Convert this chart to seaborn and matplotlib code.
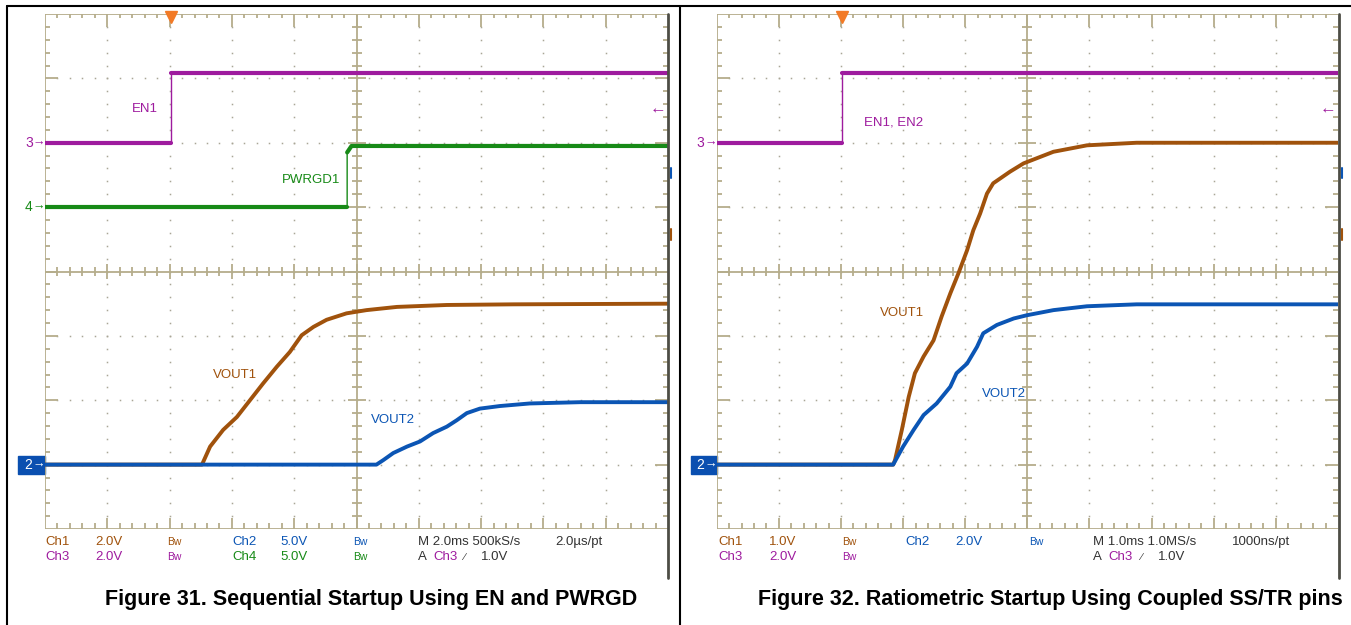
import numpy as np
import matplotlib
matplotlib.use("Agg")
import matplotlib.pyplot as plt
from matplotlib.lines import Line2D
from matplotlib.patches import Rectangle
from matplotlib.collections import LineCollection
import seaborn as sns

W, H = 1351, 625

# trace values in scope divisions (time: 0-10 div, level: 0-8 div)
# Figure 31 - sequential startup
en1_x = [0, 2.02, 2.02, 10]
en1_y = [6.0, 6.0, 7.08, 7.08]
pwrgd_x = [0, 4.85, 4.85, 4.92, 10]
pwrgd_y = [5.0, 5.0, 5.85, 5.95, 5.95]
vout1_x = [0, 2.52, 2.65, 2.86, 3.08, 3.29, 3.50, 3.72, 3.93, 4.12, 4.31, 4.52, 4.84, 5.16, 5.65, 6.45, 7.52, 10]
vout1_y = [1.0, 1.0, 1.28, 1.54, 1.74, 2.00, 2.26, 2.52, 2.75, 3.01, 3.14, 3.25, 3.35, 3.40, 3.45, 3.48, 3.49, 3.50]
vout2_x = [0, 5.32, 5.43, 5.59, 5.81, 6.02, 6.23, 6.45, 6.61, 6.77, 6.98, 7.30, 7.78, 8.59, 10]
vout2_y = [1.0, 1.0, 1.07, 1.18, 1.28, 1.36, 1.49, 1.59, 1.69, 1.80, 1.87, 1.91, 1.95, 1.97, 1.97]

# Figure 32 - ratiometric startup
en12_x = [0, 2.02, 2.02, 10]
en12_y = [6.0, 6.0, 7.08, 7.08]
r_vout1_x = [0, 2.84, 2.87, 2.98, 3.09, 3.19, 3.33, 3.49, 3.62, 3.76, 3.89, 4.03, 4.13, 4.24, 4.35, 4.45, 4.72, 4.94, 5.42, 5.96, 6.76, 10]
r_vout1_y = [1.0, 1.0, 1.07, 1.54, 2.05, 2.42, 2.68, 2.93, 3.30, 3.66, 3.97, 4.33, 4.64, 4.90, 5.21, 5.37, 5.55, 5.68, 5.86, 5.96, 6.00, 6.00]
r_vout2_x = [0, 2.84, 3.00, 3.17, 3.33, 3.54, 3.76, 3.86, 4.03, 4.19, 4.29, 4.51, 4.78, 4.99, 5.42, 5.96, 6.76, 10]
r_vout2_y = [1.0, 1.0, 1.28, 1.54, 1.77, 1.95, 2.21, 2.42, 2.57, 2.83, 3.04, 3.17, 3.27, 3.32, 3.40, 3.46, 3.49, 3.49]

PURPLE = "#9e1b9e"
GREEN = "#178a17"
ORANGE = "#a0520c"
BLUE = "#0b55b4"
TAN = "#b5ad8b"
DOT = "#a9a696"

sns.set_style("white")
plt.rcParams["font.family"] = ["Liberation Sans", "DejaVu Sans"]

fig = plt.figure(figsize=(W / 100, H / 100), dpi=100)


def px_axes(x0, y0, x1, y1):
    return fig.add_axes([x0 / W, 1 - y1 / H, (x1 - x0) / W, (y1 - y0) / H])


def fig_line(x0, y0, x1, y1, color, lw):
    fig.add_artist(Line2D([x0 / W, x1 / W], [1 - y0 / H, 1 - y1 / H],
                          transform=fig.transFigure, color=color, lw=lw))


def draw_screen(ax, pxw):
    kx = 1 / pxw
    ky = 1 / 64.4
    ax.set_xlim(0, 10)
    ax.set_ylim(0, 8)
    ax.set_axis_off()
    # dotted graticule
    dx, dy = [], []
    for xi in [1, 2, 3, 4, 6, 7, 8, 9]:
        ys = np.arange(1, 40) * 0.2
        dx += [xi] * len(ys)
        dy += list(ys)
    for yi in [1, 2, 3, 5, 6, 7]:
        xs = np.arange(1, 50) * 0.2
        dx += list(xs)
        dy += [yi] * len(xs)
    ax.plot(dx, dy, ls="none", marker="s", ms=1.1, mew=0, color=DOT)
    segs = []
    for i in range(1, 50):
        x = i * 0.2
        big = i % 5 == 0
        segs.append([(x, 8), (x, 8 - (13 if big else 4) * ky)])
        segs.append([(x, 0), (x, (11 if big else 6) * ky)])
        lc = (8 if big else 5)
        segs.append([(x, 4 - lc * ky), (x, 4 + lc * ky)])
    for i in range(1, 40):
        y = i * 0.2
        big = i % 5 == 0
        segs.append([(0, y), ((13 if big else 5) * kx, y)])
        segs.append([(10, y), (10 - (13 if big else 5) * kx, y)])
        lc = (9 if big else 5)
        segs.append([(5 - lc * kx, y), (5 + lc * kx, y)])
    segs += [[(0, 0), (0, 8)], [(0, 8), (10, 8)], [(0, 0), (10, 0)],
             [(5, 0), (5, 8)], [(0, 4), (10, 4)]]
    ax.add_collection(LineCollection(segs, colors=TAN, linewidths=1.3))


def step_trace(ax, xs, ys, color):
    sns.lineplot(x=xs, y=ys, ax=ax, color=color, lw=1.0, estimator=None, sort=False)
    sns.lineplot(x=xs[:2], y=ys[:2], ax=ax, color=color, lw=3.0, estimator=None, sort=False)
    sns.lineplot(x=xs[2:], y=ys[2:], ax=ax, color=color, lw=3.0, estimator=None, sort=False)


def ramp_trace(ax, xs, ys, color):
    sns.lineplot(x=xs, y=ys, ax=ax, color=color, lw=2.8, estimator=None, sort=False)


def ch_marker(ax, kx, y, label, color):
    ax.text(-16 * kx, y, label, color=color, fontsize=10, ha="center", va="center")
    ax.text(-6 * kx, y, "\u2192", color=color, fontsize=9, ha="center", va="center")


def gnd_box(ax, kx, x0px):
    ax.add_patch(Rectangle((x0px * kx, 0.86), -x0px * kx, 0.28, color="#0a4fb0", clip_on=False))
    ax.text(-17 * kx, 1.0, "2", color="white", fontsize=10, ha="center", va="center")
    ax.text(-6 * kx, 1.0, "\u2192", color="white", fontsize=9, ha="center", va="center")


LBL = 9.5

# ---- left scope screen
axL = px_axes(45, 14, 668, 529)
kxL = 1 / 62.3
draw_screen(axL, 62.3)
step_trace(axL, en1_x, en1_y, PURPLE)
step_trace(axL, pwrgd_x, pwrgd_y, GREEN)
ramp_trace(axL, vout1_x, vout1_y, ORANGE)
ramp_trace(axL, vout2_x, vout2_y, BLUE)
axL.text(1.61, 6.52, "EN1", color=PURPLE, fontsize=LBL, ha="center", va="center")
axL.text(4.27, 5.42, "PWRGD1", color=GREEN, fontsize=LBL, ha="center", va="center")
axL.text(3.05, 2.39, "VOUT1", color=ORANGE, fontsize=LBL, ha="center", va="center")
axL.text(5.59, 1.69, "VOUT2", color=BLUE, fontsize=LBL, ha="center", va="center")
axL.plot(2.02, 8 - 3.5 / 64.4, marker="v", ms=8, color="#f27a26", clip_on=False)
axL.text(9.84, 6.52, "\u2190", color=PURPLE, fontsize=12, ha="center", va="center")
ch_marker(axL, kxL, 6.0, "3", PURPLE)
ch_marker(axL, kxL, 5.0, "4", GREEN)
gnd_box(axL, kxL, -27)

# ---- right scope screen
axR = px_axes(716.7, 14, 1338, 529)
kxR = 1 / 62.1
draw_screen(axR, 62.1)
step_trace(axR, en12_x, en12_y, PURPLE)
ramp_trace(axR, r_vout1_x, r_vout1_y, ORANGE)
ramp_trace(axR, r_vout2_x, r_vout2_y, BLUE)
axR.text(2.84, 6.32, "EN1, EN2", color=PURPLE, fontsize=LBL, ha="center", va="center")
axR.text(2.99, 3.35, "VOUT1", color=ORANGE, fontsize=LBL, ha="center", va="center")
axR.text(4.63, 2.10, "VOUT2", color=BLUE, fontsize=LBL, ha="center", va="center")
axR.plot(2.02, 8 - 3.5 / 64.4, marker="v", ms=8, color="#f27a26", clip_on=False)
axR.text(9.84, 6.52, "\u2190", color=PURPLE, fontsize=12, ha="center", va="center")
ch_marker(axR, kxR, 6.0, "3", PURPLE)
gnd_box(axR, kxR, -26)

# screen right edges and off-screen indicators
for xe in [667.5, 1338.5]:
    fig_line(xe, 14, xe, 578, "#4d4d45", 2.0)
for xb in [670.5, 1341.5]:
    fig_line(xb, 168, xb, 178, BLUE, 1.5)
    fig_line(xb, 229, xb, 240, ORANGE, 1.5)

# outer frame
fig_line(7, 6, W, 6, "black", 1.5)
fig_line(7, 6, 7, H, "black", 1.5)
fig_line(680, 6, 680, H, "black", 1.5)


# ---- readouts
def rt(xpx, ypx, s, color, size=9.5):
    fig.text(xpx / W, 1 - ypx / H, s, color=color, fontsize=size, ha="left", va="center")


GRAY = "#333333"
y1, y2 = 542, 557
rt(45, y1, "Ch1", ORANGE); rt(95, y1, "2.0V", ORANGE); rt(167, y1, "Bw", ORANGE, 7.5)
rt(232, y1, "Ch2", BLUE); rt(280, y1, "5.0V", BLUE); rt(353, y1, "Bw", BLUE, 7.5)
rt(418, y1, "M 2.0ms 500kS/s", GRAY); rt(555, y1, "2.0\u00b5s/pt", GRAY)
rt(45, y2, "Ch3", PURPLE); rt(95, y2, "2.0V", PURPLE); rt(167, y2, "Bw", PURPLE, 7.5)
rt(232, y2, "Ch4", GREEN); rt(280, y2, "5.0V", GREEN); rt(353, y2, "Bw", GREEN, 7.5)
rt(418, y2, "A", GRAY); rt(433, y2, "Ch3", PURPLE); rt(463, y2, "\u2215", GRAY, 7.5); rt(481, y2, "1.0V", GRAY)

rt(718, y1, "Ch1", ORANGE); rt(769, y1, "1.0V", ORANGE); rt(842, y1, "Bw", ORANGE, 7.5)
rt(905, y1, "Ch2", BLUE); rt(955, y1, "2.0V", BLUE); rt(1029, y1, "Bw", BLUE, 7.5)
rt(1093, y1, "M 1.0ms 1.0MS/s", GRAY); rt(1232, y1, "1000ns/pt", GRAY)
rt(718, y2, "Ch3", PURPLE); rt(769, y2, "2.0V", PURPLE); rt(842, y2, "Bw", PURPLE, 7.5)
rt(1093, y2, "A", GRAY); rt(1108, y2, "Ch3", PURPLE); rt(1140, y2, "\u2215", GRAY, 7.5); rt(1158, y2, "1.0V", GRAY)

# ---- captions
fig.text(371 / W, 1 - 600 / H, "Figure 31. Sequential Startup Using EN and PWRGD",
         fontsize=15.5, fontweight="bold", ha="center", va="center", color="black")
fig.text(1050 / W, 1 - 600 / H, "Figure 32. Ratiometric Startup Using Coupled SS/TR pins",
         fontsize=15.5, fontweight="bold", ha="center", va="center", color="black")

fig.savefig("out.png", dpi=100)
